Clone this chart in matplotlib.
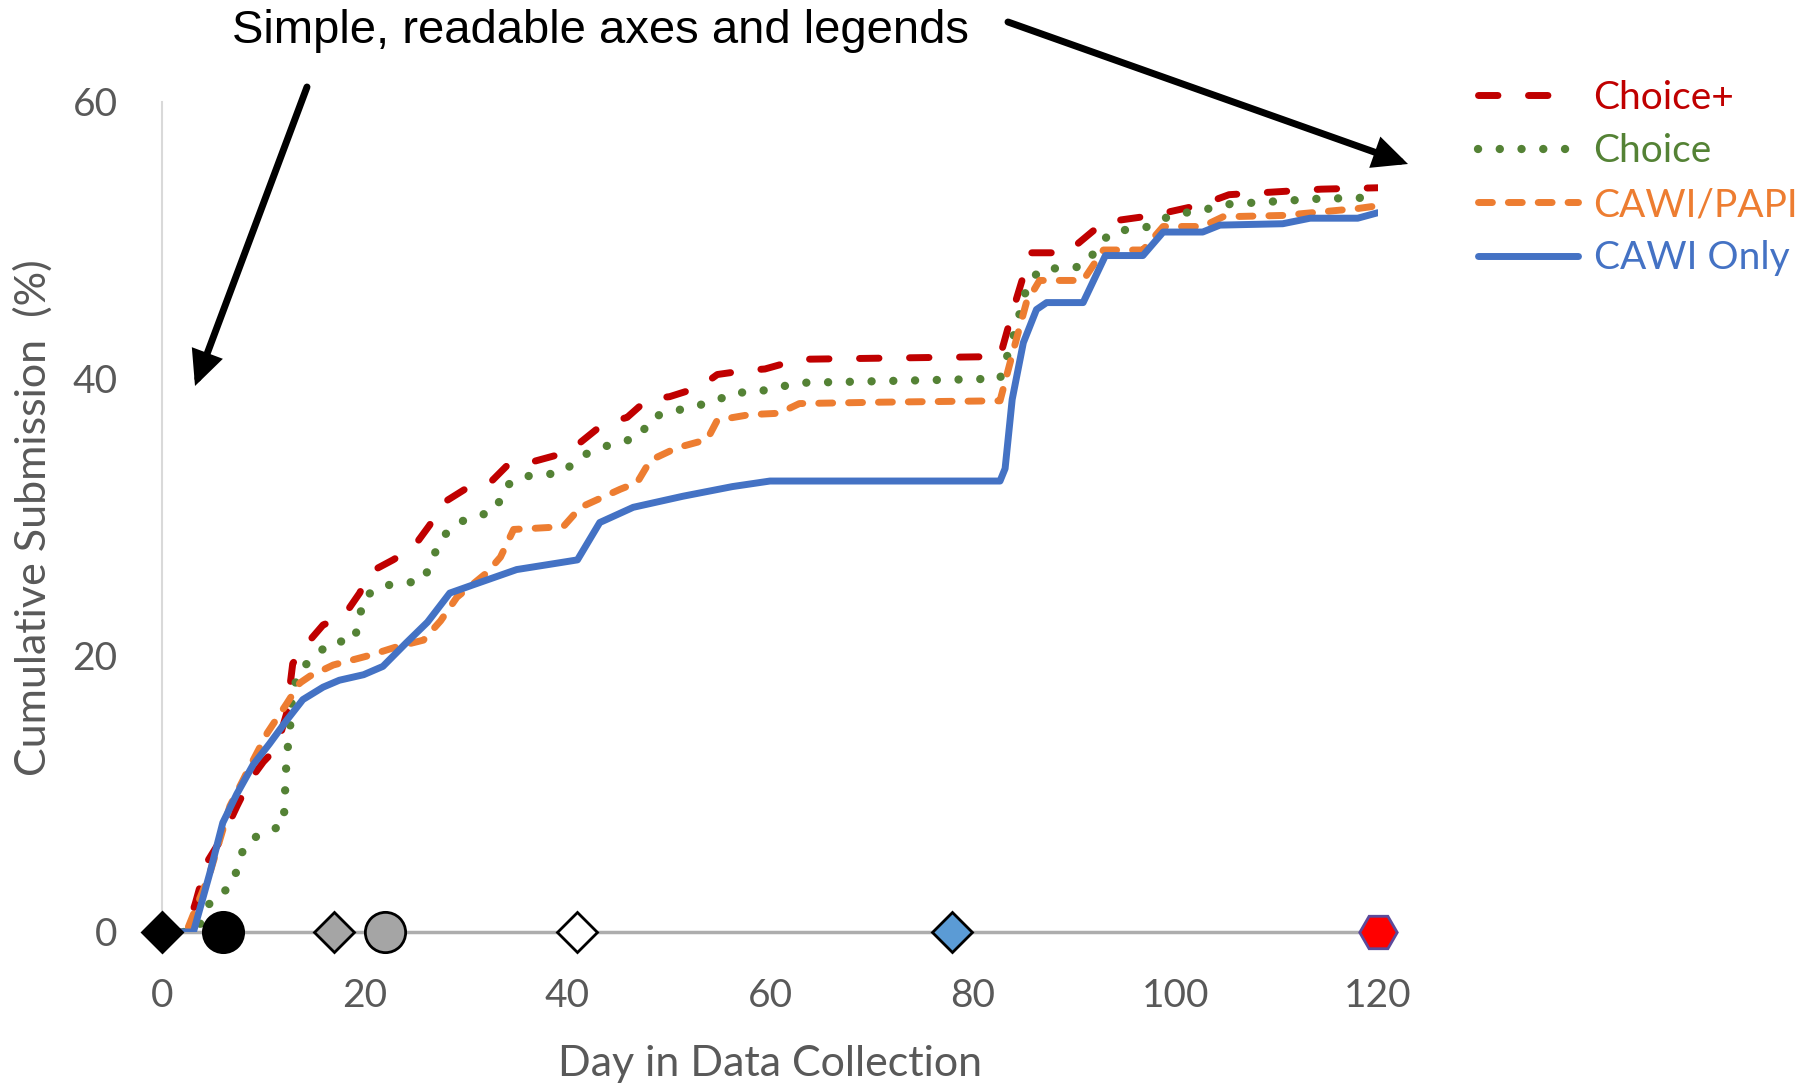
import matplotlib
matplotlib.use("Agg")
import matplotlib.pyplot as plt
from matplotlib.patches import FancyArrowPatch, ArrowStyle

# ---- data (day, cumulative %) ----
choice_plus_day = [0, 2.4, 3.3, 4.4, 6.0, 7.4, 8.7, 10, 11.3, 12.3, 12.9, 13.9, 15.9, 17.9, 19.5, 20.5,
                   22.8, 24.8, 26.4, 27.7, 30.1, 32.4, 34.3, 36.6, 39.6, 41.3, 43.5, 45.9, 47.9, 50.1,
                   53.1, 54.8, 57.7, 59.5, 62.9, 82.7, 84, 85.7, 89.3, 92.9, 97.8, 102.7, 105.3, 114.4, 120]
choice_plus_pct = [0, 0, 2.1, 5.0, 6.9, 9.1, 11, 12.3, 13.3, 15.8, 19.4, 20.5, 22.2, 22.8, 24.5, 26,
                   26.9, 27.8, 29.4, 31, 32.1, 32.5, 33.9, 34, 34.6, 35.4, 36.7, 37.2, 38.5, 38.7,
                   39.4, 40.3, 40.6, 40.7, 41.4, 41.6, 45, 49.1, 49.1, 51.3, 51.8, 52.6, 53.3, 53.7, 53.8]

choice_day = [0, 3.4, 4.9, 6.9, 7.5, 8.2, 10, 12, 12.1, 12.3, 12.6, 12.9, 13.7, 15.2, 16.7, 18.9, 19.5,
              19.8, 21.5, 25.8, 26.7, 27.6, 29.2, 33, 33.7, 35.3, 39.6, 41.1, 43.2, 47.2, 48.2, 52.4,
              54.4, 56.4, 58.4, 62.9, 82.7, 84, 85.3, 86.6, 90.9, 93.6, 97.5, 99.5, 103.4, 105, 114, 120]
choice_pct = [0, 0, 2.4, 3.3, 4.8, 6.4, 7.2, 7.7, 9.4, 12.7, 14.4, 17.5, 19, 20, 21, 21, 22.5,
              24.1, 25, 25.4, 27, 28.5, 29.6, 30.5, 32.1, 32.9, 33.2, 34.3, 35, 35.8, 37.2, 38,
              38.3, 39, 39, 39.7, 40, 43, 46.5, 47.9, 48.1, 50.6, 51, 51.8, 52.3, 52.6, 53.0, 53.1]

cawi_papi_day = [0, 2.4, 4.7, 6.7, 8.7, 10.4, 12.3, 13.6, 14.6, 16.9, 20.5, 23.1, 25.8, 27.5, 29.1,
                 32.1, 33.4, 34.7, 39.6, 41.3, 45.2, 46.9, 48.2, 50.8, 53.8, 54.8, 58, 60.9, 62.9,
                 70.9, 82.7, 84, 85.3, 86.6, 90.9, 92.9, 96.8, 98.8, 102.7, 104.7, 110.6, 118, 120]
cawi_papi_pct = [0, 0, 4.2, 9.1, 12, 14.4, 16.5, 18.0, 18.5, 19.3, 20.0, 20.6, 21.1, 22.5, 24.2,
                 26.0, 27.1, 29.1, 29.3, 30.7, 32.0, 32.5, 34.1, 35.0, 35.6, 37.0, 37.4, 37.5, 38.2,
                 38.3, 38.4, 42, 45.5, 47.1, 47.1, 49.3, 49.3, 51.0, 51.0, 51.7, 51.8, 52.3, 52.5]

cawi_only_day = [0, 3.1, 4.7, 6.0, 7.4, 9.0, 10.6, 12.3, 13.9, 15.9, 17.5, 19.9, 21.8, 24.1, 26.2,
                 28.4, 31.1, 35, 39.3, 41, 43.2, 46.5, 51.4, 56.3, 60, 82.7, 83.2, 83.9, 85.0, 86.3,
                 87.3, 90.9, 93.1, 96.8, 98.8, 102.7, 104.4, 110.6, 113.3, 118, 120]
cawi_only_pct = [0, 0, 4.2, 7.9, 10, 12.1, 13.6, 15.3, 16.8, 17.7, 18.2, 18.6, 19.2, 20.9, 22.4,
                 24.5, 25.2, 26.2, 26.7, 26.9, 29.6, 30.7, 31.5, 32.2, 32.6, 32.6, 33.5, 38.5, 42.6, 45.0,
                 45.5, 45.5, 48.9, 48.9, 50.6, 50.6, 51.1, 51.2, 51.6, 51.6, 52.0]

# event markers along the day axis
event_day = [0, 6, 17, 22, 41, 78, 120]
event_marker = ['D', 'o', 'D', 'o', 'D', 'D', 'H']
event_face = ['black', 'black', '#A5A5A5', '#A5A5A5', 'white', '#5B9BD5', '#FF0000']
event_edge = ['black', 'black', 'black', 'black', 'black', 'black', '#5B4A9B']
event_size = [20, 29, 20, 29, 20, 20, 27]

series_labels = ['Choice+', 'Choice', 'CAWI/PAPI', 'CAWI Only']
series_colors = ['#C00000', '#548235', '#ED7D31', '#4472C4']

W, H = 1817, 1085
fig = plt.figure(figsize=(W / 100, H / 100), dpi=100)
ax = fig.add_axes([162 / W, 1 - 932 / H, (1378 - 162) / W, (932 - 102) / H])

lw = 5
ax.plot(choice_plus_day, choice_plus_pct, color=series_colors[0], lw=lw,
        linestyle=(0, (2.8, 4.4)), dash_capstyle='round', label=series_labels[0], zorder=3)
ax.plot(choice_day, choice_pct, color=series_colors[1], lw=6,
        linestyle=(0, (0.01, 2.6)), dash_capstyle='round', label=series_labels[1], zorder=3)
ax.plot(cawi_papi_day, cawi_papi_pct, color=series_colors[2], lw=lw,
        linestyle=(0, (2.0, 2.3)), dash_capstyle='round', label=series_labels[2], zorder=3)
ax.plot(cawi_only_day, cawi_only_pct, color=series_colors[3], lw=lw,
        solid_capstyle='round', label=series_labels[3], zorder=4)

for d, m, fc, ec, s in zip(event_day, event_marker, event_face, event_edge, event_size):
    ax.plot([d], [0], marker=m, markersize=s, markerfacecolor=fc, markeredgecolor=ec,
            markeredgewidth=2, linestyle='none', clip_on=False, zorder=6)

ax.set_xlim(0, 120)
ax.set_ylim(0, 60)
ax.set_xticks([0, 20, 40, 60, 80, 100, 120])
ax.set_yticks([0, 20, 40, 60])

for s in ['top', 'right']:
    ax.spines[s].set_visible(False)
ax.spines['left'].set_color('#D9D9D9')
ax.spines['left'].set_linewidth(1.5)
ax.spines['bottom'].set_color('#ADADAD')
ax.spines['bottom'].set_linewidth(2.5)
ax.spines['bottom'].set_zorder(2)

ax.tick_params(axis='both', length=0, colors='#595959')
ax.tick_params(axis='y', pad=32)
ax.tick_params(axis='x', pad=33)
for lab in ax.get_xticklabels() + ax.get_yticklabels():
    lab.set_fontfamily('Lato')
    lab.set_fontsize(28)
    lab.set_color('#595959')

label_font = dict(family='Lato', size=31)
fig.text(770 / W, 1 - 1064 / H, 'Day in Data Collection', ha='center', va='center',
         color='#595959', **label_font)
fig.text(33 / W, 1 - 518 / H, 'Cumulative Submission  (%)', ha='center', va='center',
         rotation=90, color='#595959', **label_font)

leg = ax.legend(loc='upper left', bbox_to_anchor=(1478 / W, 1 - 80 / H),
                bbox_transform=fig.transFigure, frameon=False, borderpad=0, borderaxespad=0,
                handlelength=2.57, handletextpad=0.4, labelspacing=0.45,
                prop=dict(family='Lato', size=28))
for txt, c in zip(leg.get_texts(), series_colors):
    txt.set_color(c)

# annotation
fig.text(232 / W, 1 - 43 / H, 'Simple, readable axes and legends', ha='left', va='baseline',
         family='Liberation Sans', size=34, color='black')

arrow_style = ArrowStyle('-|>', head_length=17, head_width=8)
for (x0, y0), (x1, y1) in [((307, 87), (195, 386)), ((1008, 22), (1408, 164))]:
    fig.add_artist(FancyArrowPatch((x0 / W, 1 - y0 / H), (x1 / W, 1 - y1 / H),
                                   transform=fig.transFigure, arrowstyle=arrow_style,
                                   mutation_scale=1, lw=5, color='black',
                                   shrinkA=0, shrinkB=0, joinstyle='miter'))

fig.savefig('out.png', dpi=100)
